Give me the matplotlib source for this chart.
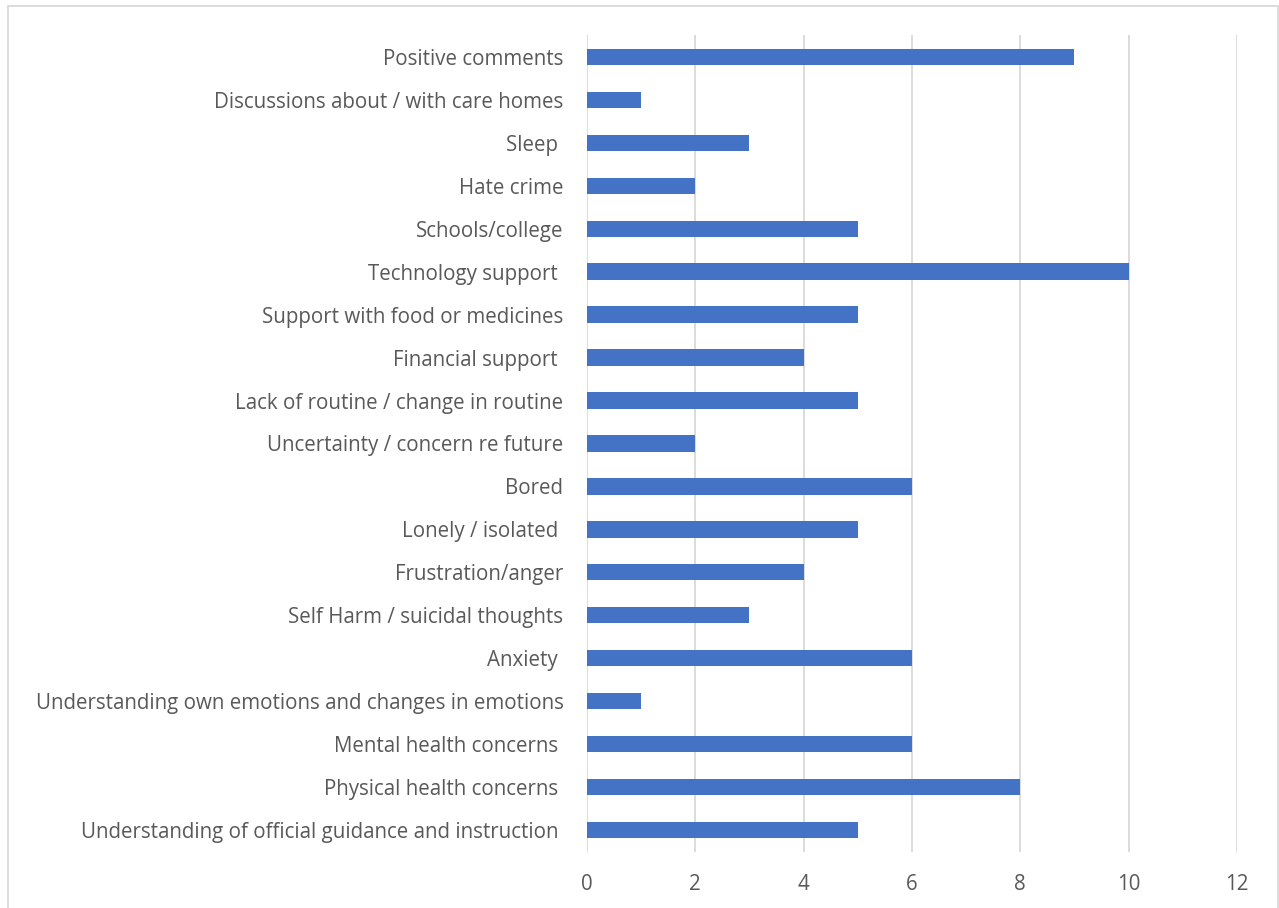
import matplotlib
matplotlib.use("Agg")
import matplotlib.pyplot as plt
from matplotlib.patches import Rectangle

# categories from bottom to top, as drawn
temas = [
    "Understanding of official guidance and instruction ",
    "Physical health concerns ",
    "Mental health concerns ",
    "Understanding own emotions and changes in emotions",
    "Anxiety ",
    "Self Harm / suicidal thoughts",
    "Frustration/anger",
    "Lonely / isolated ",
    "Bored",
    "Uncertainty / concern re future",
    "Lack of routine / change in routine",
    "Financial support ",
    "Support with food or medicines",
    "Technology support ",
    "Schools/college",
    "Hate crime",
    "Sleep ",
    "Discussions about / with care homes",
    "Positive comments",
]
contagens = [5, 8, 6, 1, 6, 3, 4, 5, 6, 2, 5, 4, 5, 10, 5, 2, 3, 1, 9]
marcas_x = [0, 2, 4, 6, 8, 10, 12]

cor_texto = "#595959"
plt.rcParams["font.family"] = ["Open Sans", "DejaVu Sans"]

fig = plt.figure(figsize=(12.79, 9.08), dpi=100)
ax = fig.add_axes([0.459, 0.0622, 0.508, 0.8988])

pos = list(range(len(temas)))
ax.barh(pos, contagens, height=0.38, color="#4472C4", zorder=3)

ax.set_xlim(0, 12)
ax.set_ylim(-0.5, len(temas) - 0.5)
ax.set_xticks(marcas_x)
ax.set_xticklabels([str(v) for v in marcas_x])
ax.set_yticks(pos)
ax.set_yticklabels(temas)

ax.grid(axis="x", color="#d9d9d9", linewidth=1.3, zorder=0)
for lado in ["top", "right", "bottom", "left"]:
    ax.spines[lado].set_visible(False)
ax.tick_params(axis="both", length=0, colors=cor_texto, labelsize=14.8)
ax.tick_params(axis="x", pad=16)
ax.tick_params(axis="y", pad=17)

# outer chart frame
fig.patches.append(Rectangle((8 / 1279, -0.01), 1 - 9 / 1279, 1.01 - 6 / 908,
                             transform=fig.transFigure, fill=False,
                             edgecolor="#d9d9d9", linewidth=1.3))

fig.savefig("out.png", dpi=100)
